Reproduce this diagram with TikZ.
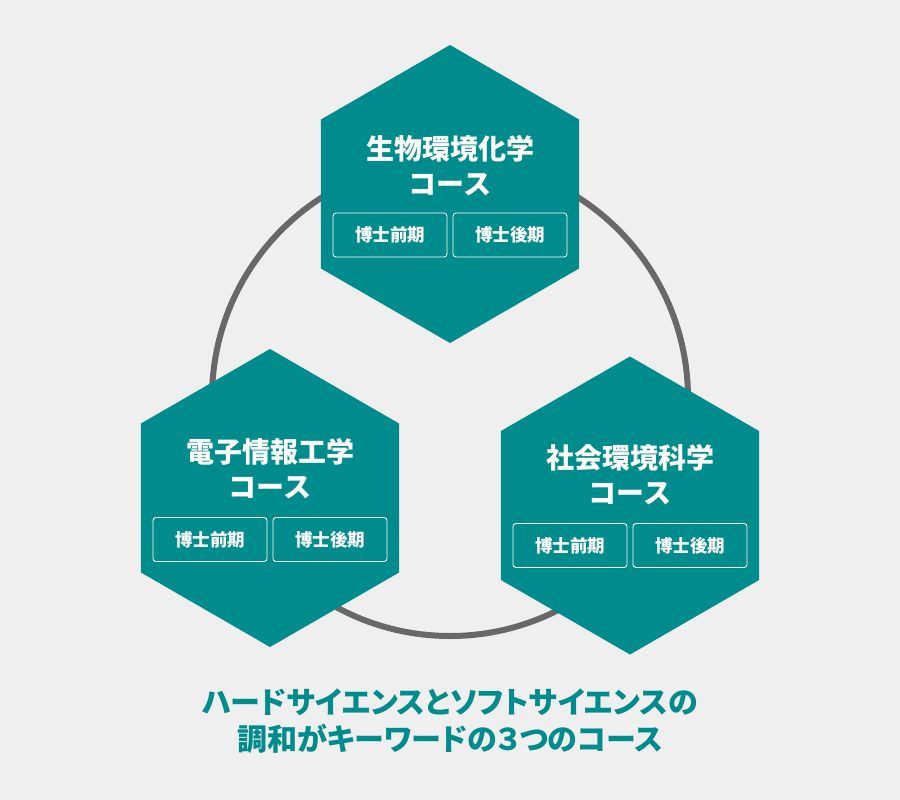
\documentclass[tikz,border=0pt]{standalone}
\usepackage{fontspec}
\setmainfont{Noto Sans CJK JP}
\usetikzlibrary{positioning,shapes.geometric}
\definecolor{courseteal}{RGB}{0,140,140}
\definecolor{ringgray}{RGB}{104,104,104}
\definecolor{pagebg}{RGB}{239,239,239}

\begin{document}
\begin{tikzpicture}[x=1pt,y=-1pt]
    \def\R{238pt}
    \tikzset{
        hexa/.style={regular polygon, regular polygon sides=6, shape border rotate=30,
            minimum size=298pt, inner sep=0pt, outer sep=0pt, fill=courseteal},
        coursetitle/.style={text=white, align=center, inner sep=0pt,
            font=\bfseries\fontsize{28}{35}\selectfont},
        degree/.style={draw=white, line width=0.9pt, rounded corners=3pt, text=white,
            minimum width=114pt, minimum height=44pt, inner sep=0pt,
            font=\bfseries\fontsize{17.5}{17.5}\selectfont},
        caption/.style={text=courseteal, align=center, inner sep=0pt,
            font=\bfseries\fontsize{30}{37}\selectfont\addfontfeatures{RawFeature=+palt}}
    }
    % Background
    \fill[pagebg] (0,0) rectangle (900,800);
    % Ring behind the courses
    \draw[ringgray, line width=6pt] (450,398) circle (\R);
    % Top course
    \node[hexa] (bio) at (450,194) {};
    \node[coursetitle] (bioT) at ([yshift=28.5pt]bio.center) {生物環境化学\\コース};
    \node[degree] (bioPre)  at ([xshift=-60pt,yshift=-41pt]bio.center) {博士前期};
    \node[degree] (bioPost) at ([xshift=60pt,yshift=-41pt]bio.center) {博士後期};
    % Left course
    \node[hexa] (elec) at (270,498) {};
    \node[coursetitle] (elecT) at ([yshift=29.5pt]elec.center) {電子情報工学\\コース};
    \node[degree] (elecPre)  at ([xshift=-60pt,yshift=-41.5pt]elec.center) {博士前期};
    \node[degree] (elecPost) at ([xshift=60pt,yshift=-41.5pt]elec.center) {博士後期};
    % Right course
    \node[hexa] (soc) at (630,505.5) {};
    \node[coursetitle] (socT) at ([yshift=30.5pt]soc.center) {社会環境科学\\コース};
    \node[degree] (socPre)  at ([xshift=-60pt,yshift=-40pt]soc.center) {博士前期};
    \node[degree] (socPost) at ([xshift=60pt,yshift=-40pt]soc.center) {博士後期};
    % Caption
    \node[caption] (note) at (450,721.5) {ハードサイエンスとソフトサイエンスの\\調和がキーワードの３つのコース};
\end{tikzpicture}
\end{document}
